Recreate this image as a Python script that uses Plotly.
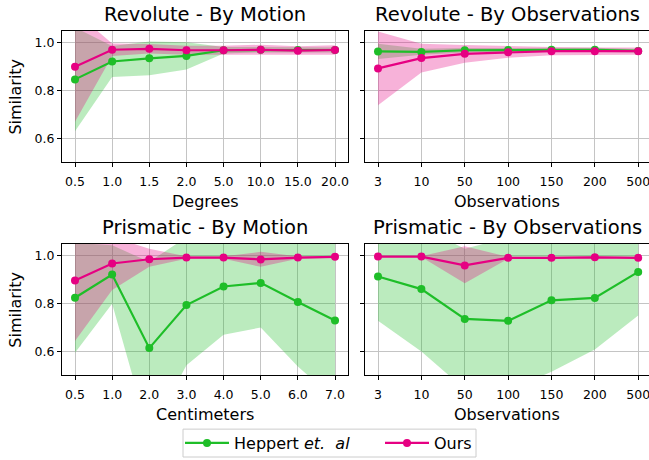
import plotly.graph_objects as go

# ---------------- data ----------------
rev_motion_labels = ["0.5", "1.0", "1.5", "2.0", "5.0", "10.0", "15.0", "20.0"]
rev_motion_hep_mean = [0.847, 0.922, 0.935, 0.945, 0.969, 0.971, 0.970, 0.970]
rev_motion_hep_lo = [0.630, 0.857, 0.864, 0.888, 0.955, 0.960, 0.960, 0.960]
rev_motion_hep_hi = [1.064, 0.987, 1.006, 1.002, 0.983, 0.982, 0.980, 0.980]
rev_motion_ours_mean = [0.900, 0.971, 0.975, 0.969, 0.969, 0.971, 0.967, 0.970]
rev_motion_ours_lo = [0.670, 0.945, 0.955, 0.950, 0.950, 0.950, 0.948, 0.950]
rev_motion_ours_hi = [1.130, 0.997, 0.995, 0.988, 0.988, 0.992, 0.986, 0.990]

rev_obs_labels = ["3", "10", "50", "100", "150", "200", "500"]
rev_obs_hep_mean = [0.964, 0.962, 0.969, 0.970, 0.971, 0.971, 0.966]
rev_obs_hep_lo = [0.932, 0.950, 0.960, 0.962, 0.963, 0.963, 0.958]
rev_obs_hep_hi = [0.996, 0.975, 0.978, 0.978, 0.979, 0.979, 0.974]
rev_obs_ours_mean = [0.893, 0.936, 0.954, 0.961, 0.965, 0.965, 0.965]
rev_obs_ours_lo = [0.739, 0.876, 0.917, 0.937, 0.948, 0.950, 0.950]
rev_obs_ours_hi = [1.047, 0.996, 0.991, 0.985, 0.982, 0.980, 0.980]

pri_motion_labels = ["0.5", "1.0", "2.0", "3.0", "4.0", "5.0", "6.0", "7.0"]
pri_motion_hep_mean = [0.825, 0.922, 0.614, 0.794, 0.872, 0.887, 0.807, 0.730]
pri_motion_hep_lo = [0.595, 0.800, 0.250, 0.542, 0.670, 0.700, 0.537, 0.400]
pri_motion_hep_hi = [1.055, 1.044, 0.975, 1.078, 1.074, 1.074, 1.077, 1.060]
pri_motion_ours_mean = [0.897, 0.968, 0.986, 0.993, 0.993, 0.985, 0.993, 0.996]
pri_motion_ours_lo = [0.644, 0.857, 0.955, 0.988, 0.988, 0.954, 0.988, 0.992]
pri_motion_ours_hi = [1.150, 1.079, 1.030, 0.998, 0.998, 1.017, 0.998, 1.000]

pri_obs_labels = ["3", "10", "50", "100", "150", "200", "500"]
pri_obs_hep_mean = [0.914, 0.861, 0.736, 0.728, 0.814, 0.824, 0.933]
pri_obs_hep_lo = [0.728, 0.600, 0.442, 0.437, 0.515, 0.608, 0.751]
pri_obs_hep_hi = [1.100, 1.120, 1.030, 1.077, 1.110, 1.060, 1.115]
pri_obs_ours_mean = [0.997, 0.997, 0.960, 0.992, 0.992, 0.994, 0.992]
pri_obs_ours_lo = [0.995, 0.995, 0.885, 0.988, 0.988, 0.990, 0.988]
pri_obs_ours_hi = [0.999, 0.999, 1.040, 0.996, 0.996, 0.998, 0.996]

titles = ["Revolute - By Motion", "Revolute - By Observations",
          "Prismatic - By Motion", "Prismatic - By Observations"]
xlabels = ["Degrees", "Observations", "Centimeters", "Observations"]
ylabel = "Similarity"
series_names = ["Heppert <i>et.</i>  <i>al</i>", "Ours"]

# ---------------- styling ----------------
W, H = 649, 460
GREEN = "rgb(30,190,40)"
GREEN_FILL = "rgba(30,190,40,0.3)"
PINK = "rgb(230,0,130)"
PINK_FILL = "rgba(230,0,130,0.3)"
FONT = "DejaVu Sans"

# pixel boxes of plot areas: (x0, x1, ytop, ybottom)
boxes = [(62, 348, 31, 163), (365, 649, 31, 163),
         (62, 348, 245, 377), (365, 649, 245, 377)]

panels = [
    (rev_motion_labels, rev_motion_hep_mean, rev_motion_hep_lo, rev_motion_hep_hi,
     rev_motion_ours_mean, rev_motion_ours_lo, rev_motion_ours_hi),
    (rev_obs_labels, rev_obs_hep_mean, rev_obs_hep_lo, rev_obs_hep_hi,
     rev_obs_ours_mean, rev_obs_ours_lo, rev_obs_ours_hi),
    (pri_motion_labels, pri_motion_hep_mean, pri_motion_hep_lo, pri_motion_hep_hi,
     pri_motion_ours_mean, pri_motion_ours_lo, pri_motion_ours_hi),
    (pri_obs_labels, pri_obs_hep_mean, pri_obs_hep_lo, pri_obs_hep_hi,
     pri_obs_ours_mean, pri_obs_ours_lo, pri_obs_ours_hi),
]

fig = go.Figure()
layout = dict(width=W, height=H, margin=dict(l=0, r=0, t=0, b=0),
              paper_bgcolor="white", plot_bgcolor="white",
              font=dict(family=FONT, color="black", size=12.5),
              showlegend=True)
annotations = []

for i, (labels, hm, hl, hh, om, ol, oh) in enumerate(panels):
    k = "" if i == 0 else str(i + 1)
    xa, ya = "x" + k, "y" + k
    x0, x1, yt, yb = boxes[i]
    n = len(labels)
    for (lo, hi, fcol) in [(hl, hh, GREEN_FILL), (ol, oh, PINK_FILL)]:
        fig.add_trace(go.Scatter(x=labels, y=lo, mode="lines", line=dict(width=0),
                                 showlegend=False, hoverinfo="skip", xaxis=xa, yaxis=ya))
        fig.add_trace(go.Scatter(x=labels, y=hi, mode="lines", line=dict(width=0),
                                 fill="tonexty", fillcolor=fcol,
                                 showlegend=False, hoverinfo="skip", xaxis=xa, yaxis=ya))
    for (m, col, name) in [(hm, GREEN, series_names[0]), (om, PINK, series_names[1])]:
        fig.add_trace(go.Scatter(x=labels, y=m, mode="lines+markers", name=name,
                                 line=dict(color=col, width=2.2),
                                 marker=dict(color=col, size=8),
                                 legendgroup=name, showlegend=(i == 0),
                                 xaxis=xa, yaxis=ya))
    margin = 0.05 * (n - 1)
    right = (n - 1 + margin) if i % 2 == 0 else (n - 1) + margin * 0.83
    common = dict(showline=True, mirror=True, linecolor="black", linewidth=1.1,
                  ticks="outside", ticklen=4, tickwidth=1, tickcolor="black",
                  showgrid=True, gridcolor="#c4c4c4", gridwidth=1.3, zeroline=False,
                  tickfont=dict(size=12.5, family=FONT, color="black"))
    layout["xaxis" + k] = dict(common, type="category", anchor=ya, ticklabelstandoff=4,
                               domain=[x0 / W, x1 / W], range=[-margin, right])
    layout["yaxis" + k] = dict(common, anchor=xa, domain=[(H - yb) / H, (H - yt) / H],
                               range=[0.5, 1.05], tickvals=[0.6, 0.8, 1.0],
                               tickformat=".1f", showticklabels=(i % 2 == 0))
    cx = (x0 + x1) / 2 / W
    annotations.append(dict(text=titles[i], x=cx, y=(H - (yt - 16.5)) / H,
                            xref="paper", yref="paper", showarrow=False,
                            xanchor="center", yanchor="middle",
                            font=dict(size=19.5, family=FONT, color="black")))
    annotations.append(dict(text=xlabels[i], x=cx, y=(H - (yb + 39.5)) / H,
                            xref="paper", yref="paper", showarrow=False,
                            xanchor="center", yanchor="middle",
                            font=dict(size=16, family=FONT, color="black")))
    if i % 2 == 0:
        annotations.append(dict(text=ylabel, x=16 / W, y=(H - (yt + yb) / 2) / H,
                                xref="paper", yref="paper", showarrow=False,
                                textangle=-90, xanchor="center", yanchor="middle",
                                font=dict(size=16, family=FONT, color="black")))

layout["annotations"] = annotations
layout["shapes"] = [dict(type="rect", xref="paper", yref="paper",
                         x0=183 / W, x1=476 / W, y0=(H - 459) / H, y1=(H - 431) / H,
                         line=dict(color="#cccccc", width=1), fillcolor="rgba(0,0,0,0)")]
layout["legend"] = dict(orientation="h", x=180 / W, xanchor="left",
                        y=(H - 445) / H, yanchor="middle",
                        borderwidth=0, bgcolor="rgba(0,0,0,0)",
                        font=dict(size=16, family=FONT, color="black"),
                        itemwidth=44, entrywidth=141, entrywidthmode="pixels",
                        tracegroupgap=0)
fig.update_layout(**layout)
fig.write_html("out.html", post_script="document.body.style.margin='0px';",
               config={"displayModeBar": False})
